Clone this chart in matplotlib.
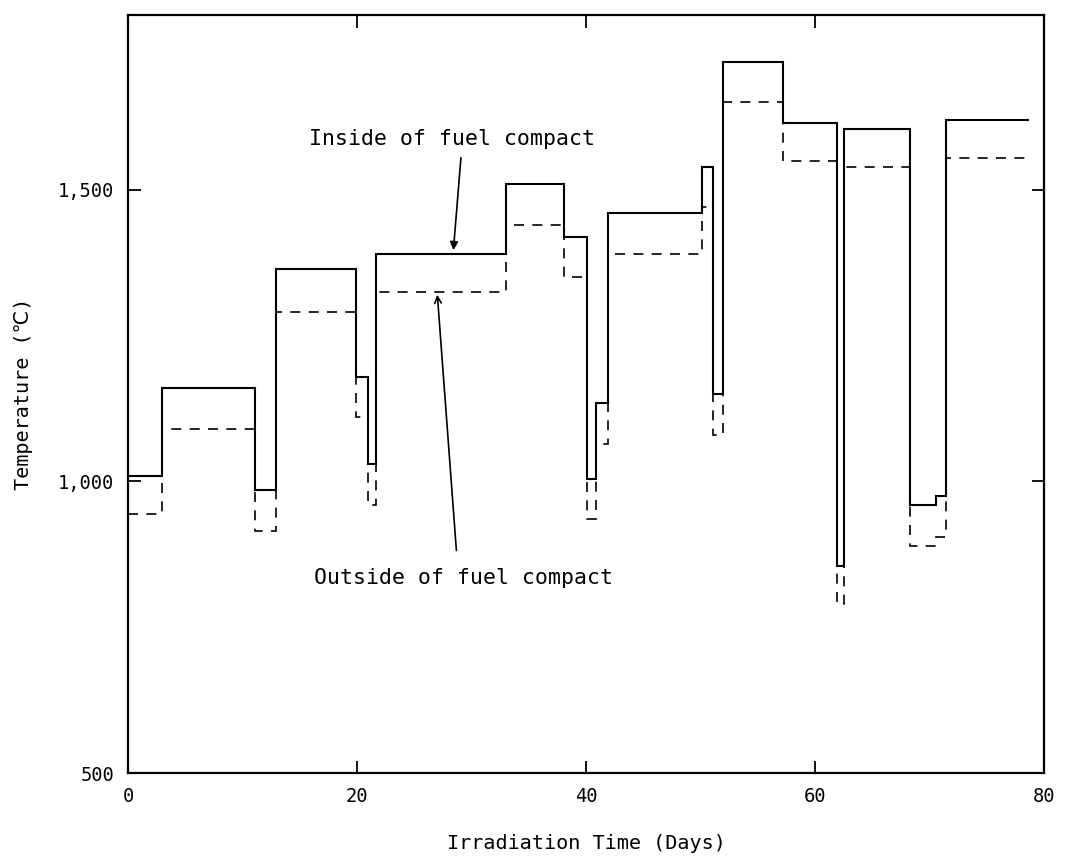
#!/usr/bin/env python3
"""
Fuel compact temperature history during irradiation.
Step plot of inside (solid) and outside (dashed) temperatures vs. days.
"""

import matplotlib
matplotlib.use("Agg")
import matplotlib.pyplot as plt

# Step edges (days) shared by both curves
STEP_EDGES = [0, 3.0, 11.1, 12.9, 19.9, 21.0, 21.7, 33.0, 38.1, 40.1, 40.9,
              41.9, 50.1, 51.1, 52.0, 57.2, 61.9, 62.5, 68.3, 70.6, 71.4, 78.7]

# Temperatures (deg C) for each step
INSIDE_TEMP = [1010, 1160, 985, 1365, 1180, 1030, 1390, 1510, 1420, 1005, 1135,
               1460, 1540, 1150, 1720, 1615, 855, 1605, 960, 975, 1620]
OUTSIDE_TEMP = [945, 1090, 915, 1290, 1110, 960, 1325, 1440, 1350, 935, 1065,
                1390, 1470, 1080, 1650, 1550, 790, 1540, 890, 905, 1555]

X_TICKS = [0, 20, 40, 60, 80]
Y_TICKS = [500, 1000, 1500]
Y_TICK_LABELS = ["500", "1,000", "1,500"]

FONT = ["DejaVu Sans Mono", "DejaVu Sans"]


def main():
    plt.rcParams["font.family"] = FONT

    fig = plt.figure(figsize=(10.7, 8.59), dpi=100)
    ax = fig.add_axes([0.1196, 0.1001, 0.8561, 0.8824])

    # Curves
    ax.stairs(INSIDE_TEMP, STEP_EDGES, baseline=None, color="black",
              linewidth=1.5, zorder=3)
    ax.stairs(OUTSIDE_TEMP, STEP_EDGES, baseline=None, color="black",
              linewidth=1.2, linestyle=(0, (6, 5)), zorder=2)

    # Annotations
    ax.annotate("", xy=(28.4, 1392), xytext=(29.1, 1560),
                arrowprops=dict(arrowstyle="-|>", color="black", lw=1.2,
                                mutation_scale=12))
    ax.text(28.3, 1588, "Inside of fuel compact", ha="center", va="center",
            fontsize=15.5)
    ax.annotate("", xy=(27.0, 1325), xytext=(28.7, 877),
                arrowprops=dict(arrowstyle="->", color="black", lw=1.2,
                                mutation_scale=12))
    ax.text(29.3, 834, "Outside of fuel compact", ha="center", va="center",
            fontsize=15.5)

    # Axes & styling
    ax.set_xlim(0, 80)
    ax.set_ylim(500, 1800)
    ax.set_xticks(X_TICKS)
    ax.set_yticks(Y_TICKS)
    ax.set_yticklabels(Y_TICK_LABELS)
    ax.tick_params(direction="in", length=9, width=1.3, labelsize=13.5,
                   top=True, right=True, pad=10)
    for spine in ax.spines.values():
        spine.set_linewidth(1.6)

    ax.set_xlabel("Irradiation Time (Days)", fontsize=14.5, labelpad=20)
    ax.set_ylabel("Temperature (℃)", fontsize=14.5, labelpad=18)

    fig.savefig("out.png", dpi=100, facecolor="white")
    plt.close(fig)


if __name__ == "__main__":
    main()
